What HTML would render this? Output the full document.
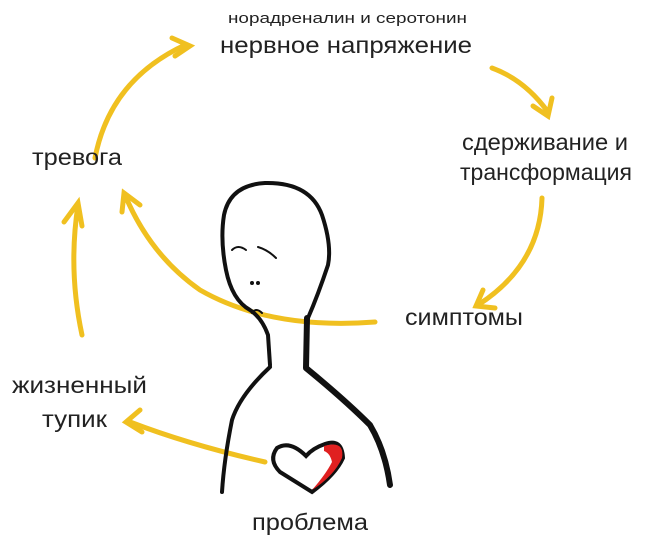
<!DOCTYPE html>
<html><head><meta charset="utf-8"><style>
body{margin:0;background:#fff;width:647px;height:550px;overflow:hidden;font-family:"Liberation Sans","DejaVu Sans",sans-serif;}
</style></head><body>
<svg width="647" height="550" viewBox="0 0 647 550" xmlns="http://www.w3.org/2000/svg">
<g fill="none" stroke="#f0c020" stroke-width="5" stroke-linecap="round">
<path d="M95 158 Q110 80 185 45"/><path d="M172 38 L190 46 L175 56"/>
<path d="M492 68 Q525 80 548 112"/><path d="M533 106 L548 116 L552 98"/>
<path d="M542 198 Q540 265 478 305"/><path d="M483 290 L476 306 L495 308"/>
<path d="M375 322 Q270 330 200 290 Q150 255 125 195"/><path d="M122 212 L124 193 L140 205"/>
<path d="M82 335 Q68 270 78 205"/><path d="M64 222 L78 203 L82 226"/>
<path d="M265 462 Q190 445 130 422"/><path d="M140 410 L126 422 L142 432"/>
</g>
<g fill="none" stroke="#111" stroke-width="4" stroke-linecap="round" stroke-linejoin="round">
<path d="M270 365 L268 335 Q262 318 250 310 Q232 300 226 270 Q220 240 224 215 Q230 185 265 183 Q310 182 322 215 Q332 245 328 265 Q318 295 308 318"/>
<path d="M270 367 Q240 395 232 420 Q224 460 222 492"/>
<path d="M307 318 L306 368 Q345 400 370 425 Q385 450 390 485" stroke-width="6"/>
<path d="M232 250 Q238 244 246 250" stroke-width="2"/>
<path d="M258 247 Q268 250 276 258" stroke-width="2"/>
<path d="M252 313 Q256 307 262 313" stroke-width="2"/>
</g>
<circle cx="252" cy="283" r="2" fill="#111"/><circle cx="258" cy="283" r="2" fill="#111"/>
<path d="M306 456 Q290 440 277 448 Q268 460 280 472 L312 492 Q336 474 343 458 Q342 438 325 444 Q313 448 306 456 Z" fill="#fff" stroke="#111" stroke-width="4"/>
<path d="M324 446 Q345 440 342 458 Q334 476 312 490 Q326 474 332 462 Q330 453 324 451 Z" fill="#e02020"/>
<g fill="#222">
<text x="228" y="23" font-size="15" textLength="239" lengthAdjust="spacingAndGlyphs">норадреналин и серотонин</text>
<text x="220" y="53" font-size="23" textLength="252" lengthAdjust="spacingAndGlyphs">нервное напряжение</text>
<text x="462" y="150" font-size="23" textLength="166" lengthAdjust="spacingAndGlyphs">сдерживание и</text>
<text x="460" y="180" font-size="23" textLength="172" lengthAdjust="spacingAndGlyphs">трансформация</text>
<text x="32" y="165" font-size="23" textLength="90" lengthAdjust="spacingAndGlyphs">тревога</text>
<text x="405" y="325" font-size="23" textLength="118" lengthAdjust="spacingAndGlyphs">симптомы</text>
<text x="12" y="393" font-size="23" textLength="135" lengthAdjust="spacingAndGlyphs">жизненный</text>
<text x="42" y="427" font-size="23" textLength="65" lengthAdjust="spacingAndGlyphs">тупик</text>
<text x="252" y="530" font-size="23" textLength="116" lengthAdjust="spacingAndGlyphs">проблема</text>
</g>
</svg>
</body></html>
